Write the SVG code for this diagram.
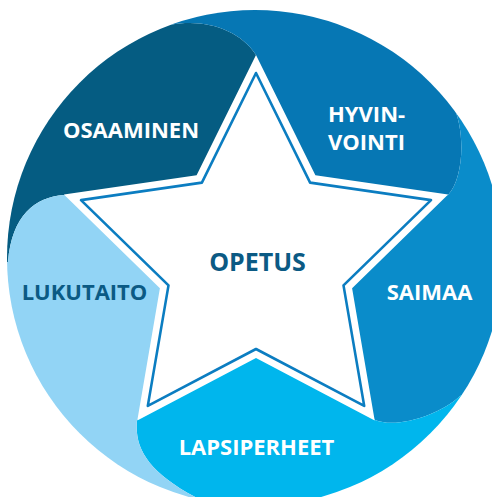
<svg xmlns="http://www.w3.org/2000/svg" width="492" height="497" viewBox="0 0 492 497">
  <defs>
    <clipPath id="disc">
      <circle cx="255" cy="258" r="248"/>
    </clipPath>
    <style>
      .lbl { font-family: "Open Sans", "Noto Sans", "Liberation Sans", sans-serif; font-weight: bold; font-size: 22px; fill: #ffffff; }
      .dark { fill: #0b5a84; }
      .mid { text-anchor: middle; }
    </style>
  </defs>
  <rect width="492" height="497" fill="#ffffff"/>
  <g id="segments" clip-path="url(#disc)">
    <g id="osaaminen">
      <path d="M256,257 L256,55 C240,30 205,18 170,25 L170,-20 L-20,-20 L-20,275 L8,262 C12,215 35,197 64,195 Z" fill="#055c82"/>
    </g>
    <g id="hyvinvointi">
      <path d="M256,257 L256,55 C240,30 205,18 170,25 L170,-20 L520,-20 L475,85 L452,103 C466,130 464,178 448,195 Z" fill="#0677b4"/>
    </g>
    <g id="saimaa">
      <path d="M256,257 L448,195 C464,178 466,130 452,103 L475,85 L520,85 L520,378 L495,378 L460,396 C440,415 397,429 375,420 Z" fill="#0a8cca"/>
    </g>
    <g id="lapsiperheet">
      <path d="M256,257 L375,420 C397,429 440,415 460,396 L495,378 L520,378 L520,520 L210,520 L205,502 C150,475 134,450 137,420 Z" fill="#00b6ed"/>
    </g>
    <g id="lukutaito">
      <path d="M256,257 L137,420 C134,450 150,475 205,502 L210,520 L-20,520 L-20,275 L8,262 C12,215 35,197 64,195 Z" fill="#92d4f5"/>
    </g>
  </g>
  <g id="opetus">
    <polygon points="256,55 315.4,175.3 448.1,194.6 352.1,288.2 374.7,420.4 256,358 137.3,420.4 159.9,288.2 63.9,194.6 196.6,175.3" fill="#ffffff"/>
    <polygon points="256,73 310.1,182.6 431,200.1 343.5,285.4 364.2,405.9 256,349 147.8,405.9 168.5,285.4 81,200.1 201.9,182.6" fill="none" stroke="#0b7dc1" stroke-width="2.6" stroke-linejoin="round"/>
    <text class="lbl dark mid" x="257.5" y="271" style="font-size:25px">OPETUS</text>
  </g>
  <g id="labels">
    <text class="lbl mid" x="131" y="138">OSAAMINEN</text>
    <text class="lbl" x="328" y="122">HYVIN-</text>
    <text class="lbl" x="328" y="150">VOINTI</text>
    <text class="lbl mid" x="429.5" y="300">SAIMAA</text>
    <text class="lbl mid" x="256.5" y="455">LAPSIPERHEET</text>
    <text class="lbl dark mid" x="84.5" y="300">LUKUTAITO</text>
  </g>
</svg>
